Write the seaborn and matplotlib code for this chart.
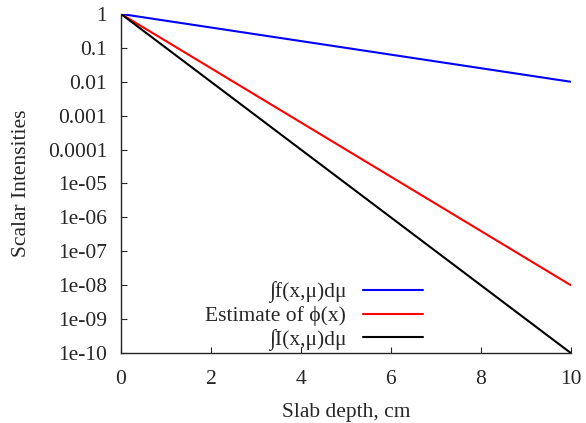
import matplotlib
matplotlib.use("Agg")
import matplotlib.pyplot as plt
import seaborn as sns
import pandas as pd

# Endpoints of each curve (straight lines on a log axis)
depth = [0, 10]
f_integral = [1, 1e-2]
phi_estimate = [1, 1e-8]
i_integral = [1, 1e-10]

labels = ["\u222bf(x,\u03bc)d\u03bc", "Estimate of \u03d5(x)", "\u222bI(x,\u03bc)d\u03bc"]
colors = ["#0000ff", "#ff0000", "#000000"]
yticks = [1, 0.1, 0.01, 0.001, 0.0001, 1e-5, 1e-6, 1e-7, 1e-8, 1e-9, 1e-10]
ytick_labels = ["1", "0.1", "0.01", "0.001", "0.0001", "1e-05", "1e-06",
                "1e-07", "1e-08", "1e-09", "1e-10"]

df = pd.concat([
    pd.DataFrame({"depth": depth, "value": vals, "series": lab})
    for vals, lab in zip([f_integral, phi_estimate, i_integral], labels)
], ignore_index=True)

sns.set_style("ticks")
plt.rcParams["font.family"] = ["Liberation Serif", "DejaVu Serif"]
fs = 15.5

fig = plt.figure(figsize=(5.86, 4.23), dpi=100)
ax = fig.add_axes([0.2065, 0.1655, 0.7675, 0.8015])

sns.lineplot(data=df, x="depth", y="value", hue="series", palette=colors,
             hue_order=labels, linewidth=1.5, ax=ax)

ax.set_yscale("log")
ax.set_xlim(0, 10)
ax.set_ylim(1e-10, 1)
ax.set_yticks(yticks)
ax.set_yticklabels(ytick_labels)
ax.minorticks_off()
ax.set_xticks([0, 2, 4, 6, 8, 10])
ax.tick_params(direction="in", length=4, width=0.8, labelsize=fs)
ax.tick_params(axis="y", pad=10)
ax.tick_params(axis="x", pad=12)
sns.despine(ax=ax)
for s in ["left", "bottom"]:
    ax.spines[s].set_linewidth(1.0)

ax.set_xlabel("Slab depth, cm", fontsize=fs, labelpad=10)
ax.set_ylabel("Scalar Intensities", fontsize=fs, labelpad=12)

ax.legend(loc="lower right", bbox_to_anchor=(0.671, 0.006), frameon=False,
          markerfirst=False, handlelength=2.8, handletextpad=0.75, fontsize=fs,
          labelspacing=0.13, borderaxespad=0.0, borderpad=0.0)

fig.savefig("out.png", dpi=100)
